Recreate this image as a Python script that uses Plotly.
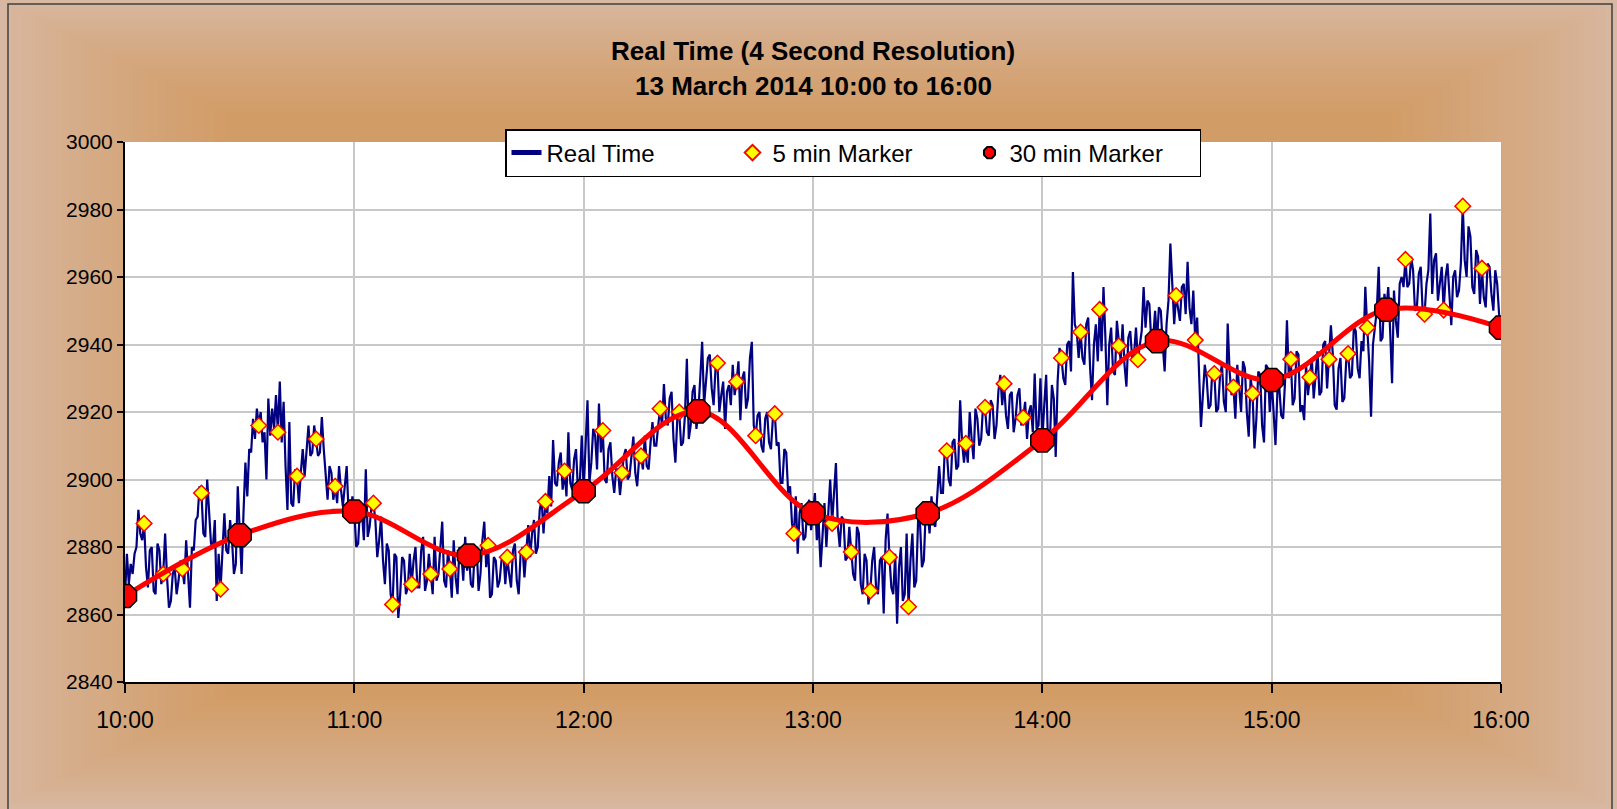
import numpy as np
import pandas as pd
import plotly.graph_objects as go

day = "2014-03-13"

# 5 minute markers, 10:00 to 16:00
m5_values = [
    2865.5, 2887, 2872, 2873.5, 2896, 2867.5,
    2883.5, 2916, 2914, 2901, 2912, 2898,
    2890.5, 2893, 2863, 2869, 2872, 2873.5,
    2877.5, 2880.5, 2877, 2878.5, 2893.5, 2902.5,
    2896.5, 2914.5, 2902, 2907, 2921, 2920,
    2920.2, 2934.5, 2929, 2913, 2919.5, 2884,
    2890, 2887, 2878.5, 2867, 2877, 2862.3,
    2890, 2908.5, 2910.7, 2921.4, 2928.4, 2918.4,
    2911.6, 2936, 2943.7, 2950.4, 2939.6, 2935.5,
    2941, 2954.5, 2941.3, 2931.4, 2927.4, 2925.5,
    2929.5, 2935.6, 2930.3, 2935.6, 2937.3, 2945,
    2950.3, 2965.2, 2949, 2950.2, 2981, 2962.6,
    2945,
]

# 30 minute markers, 10:00 to 16:00
m30_values = [2865.5, 2883.5, 2890.5, 2877.5, 2896.5, 2920.2, 2890,
              2890, 2911.6, 2941, 2929.5, 2950.3, 2945]

# real time readings, two per minute: on the minute ...
rt_on_minute = [
    2865.5, 2869, 2872, 2880, 2884, 2887, 2868, 2880, 2866, 2879,
    2872, 2871, 2864, 2874, 2870, 2873.5, 2882, 2862, 2879, 2889,
    2896, 2883, 2891, 2880, 2864, 2867.5, 2890, 2878, 2882, 2875,
    2883.5, 2890, 2895, 2908, 2912, 2916, 2911, 2900, 2913, 2915,
    2914, 2911, 2904, 2917, 2892, 2901, 2902, 2901, 2916, 2908,
    2912, 2908, 2909, 2894, 2902, 2898, 2904, 2892, 2904, 2889,
    2890.5, 2881, 2890, 2903, 2886, 2893, 2877, 2889, 2869, 2879,
    2863, 2877, 2866, 2876, 2868, 2869, 2880, 2868, 2883, 2870,
    2872, 2883, 2872, 2887.5, 2868, 2873.5, 2882, 2866, 2878, 2883,
    2877.5, 2868, 2880, 2872, 2887.5, 2880.5, 2866, 2876, 2870, 2878,
    2877, 2868, 2881, 2866, 2880, 2878.5, 2877, 2888, 2880, 2894,
    2893.5, 2901, 2911.7, 2898, 2908, 2902.5, 2914, 2897, 2909, 2899,
    2896.5, 2923.5, 2905, 2913, 2922.5, 2914.5, 2899, 2911, 2896, 2903,
    2902, 2909, 2901, 2912.7, 2898, 2907, 2913, 2903, 2917, 2910,
    2921, 2928.3, 2916, 2926, 2905, 2920, 2911, 2935.8, 2916, 2928,
    2920.2, 2940.8, 2929, 2937, 2922, 2934.5, 2925, 2915, 2928, 2934,
    2929, 2917.6, 2932, 2924, 2940.8, 2913, 2920, 2908, 2920, 2909,
    2919.5, 2911, 2899, 2908, 2898, 2884, 2878, 2893, 2883, 2894,
    2890, 2882, 2874, 2893, 2889, 2887, 2904.9, 2880, 2888, 2877,
    2878.5, 2870, 2884, 2866, 2876, 2867, 2880, 2866, 2877, 2882,
    2877, 2866, 2857.3, 2880, 2866, 2862.3, 2884, 2870, 2887, 2876,
    2890, 2895, 2886, 2904, 2896, 2908.5, 2898, 2912, 2904, 2911,
    2910.7, 2920, 2906, 2918, 2912, 2921.4, 2913, 2922, 2916, 2931,
    2928.4, 2915, 2926, 2918, 2927, 2918.4, 2912, 2922, 2931.4, 2916,
    2911.6, 2931, 2912, 2924, 2929, 2936, 2928, 2941, 2961.5, 2944,
    2943.7, 2934, 2948, 2923.5, 2946, 2950.4, 2957, 2922, 2945, 2931,
    2939.6, 2946, 2927.5, 2944, 2937, 2935.5, 2944, 2945, 2952, 2942,
    2941, 2950, 2932, 2953, 2956, 2954.5, 2947, 2958, 2964.5, 2946,
    2941.3, 2933, 2925, 2930, 2922, 2931.4, 2921, 2934, 2920, 2932,
    2927.4, 2934, 2920, 2933, 2912.7, 2925.5, 2918, 2931, 2911, 2933,
    2929.5, 2910.2, 2927, 2918, 2947.2, 2935.6, 2924, 2937, 2922, 2934,
    2930.3, 2924, 2938, 2926, 2941, 2935.6, 2937, 2920.7, 2936, 2924,
    2937.3, 2931, 2944, 2930, 2938, 2945, 2918.6, 2945, 2963, 2942,
    2950.3, 2944, 2956, 2942, 2960, 2965.2, 2958, 2962, 2951, 2963,
    2949, 2962, 2955, 2967, 2958, 2950.2, 2964, 2945.7, 2962, 2956,
    2981, 2960, 2972, 2955, 2966, 2962.6, 2951, 2963, 2950, 2958,
]
# ... and at half past the minute
rt_half_minute = [
    2878, 2875, 2878, 2891, 2882, 2874, 2879, 2867, 2881, 2869,
    2884, 2862, 2872, 2866, 2876, 2869, 2872, 2880, 2888, 2898,
    2884, 2900, 2881, 2888, 2878, 2878, 2879, 2888, 2872, 2898,
    2872, 2905, 2909, 2918, 2921, 2920, 2914, 2924, 2921, 2925,
    2929, 2923, 2891, 2893, 2903, 2893, 2909, 2908, 2907, 2916,
    2907, 2918.5, 2902, 2904, 2894, 2893, 2897, 2898, 2890, 2895,
    2880, 2892, 2882, 2883, 2892, 2888, 2882, 2876, 2881, 2866,
    2878, 2859, 2877, 2866, 2878, 2876, 2868, 2879, 2867, 2878,
    2866, 2870, 2880, 2870, 2879, 2865, 2871, 2880, 2870, 2873,
    2869, 2879, 2867, 2882, 2874, 2865, 2877, 2868, 2876, 2869,
    2872, 2879, 2870, 2878, 2871, 2886.5, 2884, 2878, 2891, 2884,
    2890, 2892, 2899, 2905, 2897, 2895, 2899, 2906, 2897, 2913,
    2910, 2899, 2915, 2903, 2908, 2900, 2909, 2901, 2903, 2895.4,
    2907, 2900, 2908, 2902, 2906, 2903, 2904, 2911, 2910, 2916,
    2916, 2918, 2924, 2912, 2918, 2910, 2919, 2912, 2926, 2915,
    2930, 2922, 2936, 2927, 2933, 2920, 2929, 2926, 2922, 2925,
    2935, 2930, 2921, 2936, 2916, 2919, 2910, 2918, 2911, 2918,
    2910, 2899, 2909, 2896, 2887, 2895, 2890, 2882, 2891, 2885,
    2896, 2887, 2885, 2880, 2900, 2896, 2886, 2889, 2876, 2886,
    2872, 2886, 2869, 2878, 2863, 2876, 2868, 2876, 2860.3, 2889.9,
    2868, 2878, 2874, 2864, 2884, 2876, 2868, 2888, 2874, 2891,
    2884, 2887, 2897, 2896, 2909.7, 2900, 2911, 2903, 2923.5, 2905,
    2905, 2912, 2921, 2910, 2922, 2914, 2923.5, 2912, 2926, 2922,
    2919, 2925, 2914, 2925, 2916, 2923, 2920, 2914, 2915, 2930,
    2922, 2910, 2928, 2906.7, 2939, 2930, 2940, 2932, 2946, 2936,
    2936, 2946, 2933, 2940, 2935, 2938, 2942, 2940, 2932, 2947,
    2935, 2934, 2942, 2936, 2945, 2940, 2957, 2953, 2941, 2950,
    2951, 2940, 2946, 2969.9, 2946, 2950, 2957, 2949, 2951, 2956,
    2948, 2915.6, 2934, 2921, 2933, 2920, 2931, 2923, 2946.2, 2925,
    2918, 2926, 2935, 2920, 2930, 2909.2, 2932, 2916, 2934, 2920,
    2920, 2926, 2919, 2929, 2930, 2922, 2938, 2920, 2917.6, 2925,
    2936, 2932, 2925, 2940, 2927, 2945.7, 2922, 2933, 2923, 2935,
    2930, 2945.2, 2933, 2941, 2957.1, 2935, 2940, 2950, 2941, 2955,
    2957, 2928.5, 2947, 2958, 2957, 2957, 2966, 2950, 2961, 2950,
    2958, 2978.8, 2965, 2953, 2963, 2960, 2954, 2960, 2954, 2964,
    2965, 2975, 2957, 2968, 2952, 2954, 2964, 2955, 2962, 2949,
]
rt_close = 2945

y_ticks = [2840, 2860, 2880, 2900, 2920, 2940, 2960, 2980, 3000]
x_ticks = ["10:00", "11:00", "12:00", "13:00", "14:00", "15:00", "16:00"]

start = pd.Timestamp(f"{day} 10:00")
rt_values = []
for a, b in zip(rt_on_minute, rt_half_minute):
    rt_values += [a, b]
rt_values.append(rt_close)
rt_times = pd.date_range(start, periods=len(rt_values), freq="30s")
m5_times = pd.date_range(start, periods=len(m5_values), freq="5min")
m30_times = pd.date_range(start, periods=len(m30_values), freq="30min")
tick_vals = [pd.Timestamp(f"{day} {t}") for t in x_ticks]

W, H = 1617, 809
ml, mr, mt, mb = 125, 116, 142, 127
pw, ph = W - ml - mr, H - mt - mb


def px(x):
    return (x - ml) / pw


def py(y):
    return (H - mb - y) / ph


# rectangular "from centre" gradient, light at the edges
edge = np.array([216, 184, 162])
core = np.array([210, 156, 102])
shapes = []
steps = 40
for i in range(steps + 1):
    r = 1.0 - 0.28 * i / steps
    t = (i / steps) ** 0.8
    c = edge + (core - edge) * t
    shapes.append(dict(
        type="rect", xref="paper", yref="paper", layer="below",
        x0=px(W / 2 - r * W / 2), x1=px(W / 2 + r * W / 2),
        y0=py(H / 2 + r * H / 2), y1=py(H / 2 - r * H / 2),
        fillcolor=f"rgb({c[0]:.0f},{c[1]:.0f},{c[2]:.0f})", line_width=0))
shapes.append(dict(type="rect", xref="paper", yref="paper", layer="below",
                   x0=0, x1=1, y0=0, y1=1, fillcolor="white", line_width=0))
shapes.append(dict(type="rect", xref="paper", yref="paper", layer="below",
                   x0=px(8), x1=px(1612), y0=py(812), y1=py(4),
                   line=dict(color="#404040", width=1.5)))

font = "Liberation Sans, Arial, sans-serif"

fig = go.Figure()
fig.add_trace(go.Scatter(x=rt_times, y=rt_values, mode="lines", name="Real Time",
                         legendwidth=181,
                         line=dict(color="#000080", width=2.2)))
fig.add_trace(go.Scatter(x=m5_times, y=m5_values, mode="markers", name="5 min Marker",
                         legendwidth=192,
                         marker=dict(symbol="diamond", size=12, color="#FFFF00",
                                     line=dict(color="#FF0000", width=1.5))))
fig.add_trace(go.Scatter(x=m30_times, y=m30_values, mode="lines", showlegend=False,
                         line=dict(color="#FF0000", width=5, shape="spline", smoothing=1),
                         hoverinfo="skip"))
fig.add_trace(go.Scatter(x=m30_times, y=m30_values, mode="markers", name="30 min Marker",
                         legendwidth=185,
                         marker=dict(symbol="octagon", size=25, color="#FF0000",
                                     line=dict(color="#000000", width=1.5))))

fig.add_annotation(text="<b>Real Time (4 Second Resolution)</b>", xref="paper", yref="paper",
                   x=0.5, y=py(51), yanchor="middle", showarrow=False,
                   font=dict(size=26, color="black"))
fig.add_annotation(text="<b>13 March 2014 10:00 to 16:00</b>", xref="paper", yref="paper",
                   x=0.5, y=py(86), yanchor="middle", showarrow=False,
                   font=dict(size=26, color="black"))

fig.update_layout(
    width=W, height=H,
    margin=dict(l=ml, r=mr, t=mt, b=mb),
    paper_bgcolor="rgb(216,184,162)",
    plot_bgcolor="white",
    font=dict(family=font, size=21, color="black"),
    shapes=shapes,
    showlegend=True,
    legend=dict(orientation="h", x=px(505), y=py(129), xanchor="left", yanchor="top",
                bgcolor="white", bordercolor="black", borderwidth=1.5,
                font=dict(size=24), itemsizing="constant", traceorder="normal"),
    xaxis=dict(type="date", range=[tick_vals[0], tick_vals[-1]], tickvals=tick_vals,
               ticktext=x_ticks, showgrid=True, gridcolor="#C8C8C8", gridwidth=1.5,
               showline=True, linecolor="black", linewidth=2,
               ticks="outside", ticklen=9, tickcolor="black", tickwidth=1.5,
               ticklabelstandoff=7, tickfont=dict(size=23), zeroline=False),
    yaxis=dict(range=[2840, 3000], tickvals=y_ticks, showgrid=True, gridcolor="#C8C8C8",
               gridwidth=1.5, showline=True, linecolor="black", linewidth=2,
               ticks="outside", ticklen=6, tickcolor="black", tickwidth=1.5,
               zeroline=False),
)

fig.write_html("out.html", config={"displayModeBar": False},
               post_script="document.body.style.margin = '0px';")
